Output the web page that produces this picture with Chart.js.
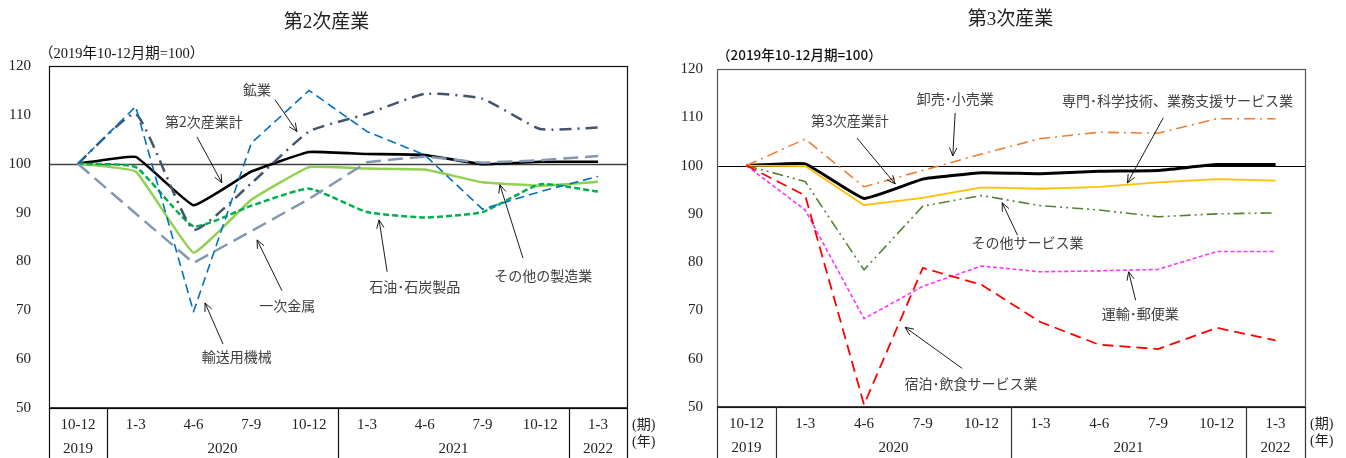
<!DOCTYPE html>
<html lang="ja">
<head>
<meta charset="utf-8">
<title>第2次産業・第3次産業</title>
<script src="https://cdn.jsdelivr.net/npm/chart.js@4/dist/chart.umd.min.js"></script>
<style>
  html, body { margin: 0; padding: 0; background: #fff; }
  #wrap { position: relative; width: 1346px; height: 458px; overflow: hidden; }
  .panel { position: absolute; top: 0; width: 673px; height: 458px; }
  #panelL { left: 0; }
  #panelR { left: 673px; }
  .title { position: absolute; width: 100%; text-align: center; font: 19px "Liberation Serif", "Noto Sans CJK JP", serif; color: #222; }
  .base { position: absolute; font-size: 14px; color: #111; white-space: nowrap; }
  #baseL { left: 39px; top: 41px; font-family: "Liberation Serif", "Noto Sans CJK JP", serif; font-size: 14.5px; }
  #baseR { left: 44px; top: 44px; font-family: "Noto Sans CJK JP", sans-serif; font-weight: 500; font-size: 13.5px; }
  canvas { position: absolute; left: 0; top: 0; }
</style>
</head>
<body>
<div id="wrap">
  <div class="panel" id="panelL">
    <canvas id="chartL" width="673" height="458"></canvas>
    <div class="title" style="top:6px;left:-10px">第2次産業</div>
    <div class="base" id="baseL">（2019年10-12月期=100）</div>
  </div>
  <div class="panel" id="panelR">
    <canvas id="chartR" width="673" height="458"></canvas>
    <div class="title" style="top:3px;left:1px">第3次産業</div>
    <div class="base" id="baseR">（2019年10-12月期=100）</div>
  </div>
</div>
<script>
// Quarter axis: period labels and the year each quarter belongs to
const quarters = ['10-12', '1-3', '4-6', '7-9', '10-12', '1-3', '4-6', '7-9', '10-12', '1-3'];
const quarterYears = ['2019', '2020', '2020', '2020', '2020', '2021', '2021', '2021', '2021', '2022'];
const yTicks = [50, 60, 70, 80, 90, 100, 110, 120];

// 第2次産業 (2019年10-12月期=100)
const secondaryTotal = [100, 101.4, 91.5, 98.4, 102.4, 102.0, 101.8, 99.9, 100.4, 100.4];
const mining = [100, 110.2, 86.5, 96.0, 106.6, 110.2, 114.3, 113.3, 107.1, 107.4];
const transportMachinery = [100, 111.7, 69.7, 104.2, 115.0, 106.6, 101.8, 90.7, 94.3, 97.4];
const primaryMetals = [100, 89.8, 79.7, 86.2, 92.8, 100.3, 101.5, 100.2, 100.7, 101.6];
const otherManufacturing = [100, 98.4, 81.8, 92.6, 99.3, 99.0, 98.8, 96.2, 95.5, 96.3];
const petroleumCoal = [100, 99.3, 87.2, 91.4, 94.9, 90.1, 89.0, 90.1, 95.8, 94.3];

// 第3次産業 (2019年10-12月期=100)
const tertiaryTotal = [100, 100.35, 93.2, 97.2, 98.5, 98.3, 98.8, 99.0, 100.2, 100.2];
const wholesaleRetail = [100, 105.5, 95.6, 99.0, 102.4, 105.6, 106.9, 106.7, 109.7, 109.7];
const professionalServices = [100, 99.9, 91.8, 93.3, 95.5, 95.2, 95.6, 96.5, 97.2, 96.9];
const otherServices = [100, 96.7, 78.4, 91.6, 93.8, 91.7, 90.8, 89.4, 90.0, 90.2];
const transportPostal = [100, 90.8, 68.3, 75.0, 79.2, 78.0, 78.2, 78.5, 82.2, 82.2];
const accommodationFood = [100, 93.8, 50.5, 78.8, 75.3, 67.6, 62.9, 62.0, 66.4, 63.8];

// Callouts: text position and arrow (from -> to), in category index / index value
const secondaryNotes = [
  { text: '鉱業', at: [3.10, 115.2], from: [3.41, 113.1], to: [3.79, 106.6] },
  { text: '第2次産業計', at: [2.18, 108.6], from: [2.06, 105.5], to: [2.49, 96.1] },
  { text: '一次金属', at: [3.62, 70.9], from: [3.53, 74.0], to: [3.10, 84.4] },
  { text: '輸送用機械', at: [2.75, 60.5], from: [2.51, 63.1], to: [2.20, 71.5] },
  { text: '石油･石炭製品', at: [5.83, 74.8], from: [5.35, 77.9], to: [5.21, 88.5] },
  { text: 'その他の製造業', at: [8.05, 77.0], from: [7.70, 80.7], to: [7.30, 95.7] }
];
const tertiaryNotes = [
  { text: '卸売･小売業', at: [3.55, 113.8], from: [3.55, 110.9], to: [3.51, 102.0] },
  { text: '第3次産業計', at: [1.76, 109.3], from: [1.88, 105.7], to: [2.53, 96.2] },
  { text: '専門･科学技術、業務支援サービス業', at: [7.33, 113.4], from: [7.09, 109.9], to: [6.48, 96.4] },
  { text: 'その他サービス業', at: [4.78, 84.0], from: [4.61, 85.6], to: [4.35, 92.3] },
  { text: '運輸･郵便業', at: [6.70, 69.4], from: [6.62, 72.1], to: [6.50, 78.0] },
  { text: '宿泊･飲食サービス業', at: [3.82, 54.9], from: [3.67, 58.0], to: [2.70, 66.5] }
];

const SERIF = '"Liberation Serif", "Noto Sans CJK JP", serif';

function line(label, data, color, width, dash, tension) {
  return {
    label, data,
    borderColor: color,
    borderWidth: width,
    borderDash: dash || [],
    borderCapStyle: 'butt',
    borderJoinStyle: 'round',
    pointRadius: 0,
    fill: false,
    tension: tension || 0
  };
}

// Frame, base line at 100, quarter/year table under the plot, and callouts
const framePlugin = {
  id: 'frame',
  beforeDatasetsDraw(chart, args, o) {
    const { ctx, chartArea: a, scales: { y } } = chart;
    const yb = Math.round(y.getPixelForValue(100)) + 0.5;
    ctx.save();
    ctx.strokeStyle = o.baseColor;
    ctx.lineWidth = o.baseWidth;
    ctx.beginPath();
    ctx.moveTo(a.left, yb);
    ctx.lineTo(a.right, yb);
    ctx.stroke();
    ctx.restore();
  },
  afterDatasetsDraw(chart, args, o) {
    const { ctx, chartArea: a, scales: { x, y } } = chart;
    const H = chart.height;
    const step = x.getPixelForValue(1) - x.getPixelForValue(0);
    ctx.save();
    // plot frame
    ctx.strokeStyle = o.frameColor;
    ctx.lineWidth = 1.2;
    ctx.strokeRect(Math.round(a.left) + 0.5, Math.round(a.top) + 0.5,
      Math.round(a.right - a.left), Math.round(a.bottom - a.top));
    ctx.strokeStyle = '#000';
    ctx.lineWidth = 1.5;
    ctx.beginPath();
    ctx.moveTo(a.left, a.bottom);
    ctx.lineTo(a.right, a.bottom);
    ctx.stroke();

    // year group separators and labels
    ctx.lineWidth = 1.2;
    ctx.strokeStyle = o.tableColor;
    ctx.fillStyle = '#222';
    ctx.font = '15px ' + SERIF;
    ctx.textAlign = 'center';
    ctx.textBaseline = 'middle';
    const edges = [];
    let start = 0;
    for (let i = 1; i <= quarterYears.length; i++) {
      if (i === quarterYears.length || quarterYears[i] !== quarterYears[start]) {
        const l = x.getPixelForValue(start) - step / 2;
        const r = x.getPixelForValue(i - 1) + step / 2;
        edges.push(l, r);
        ctx.fillText(quarterYears[start], (l + r) / 2, a.bottom + o.yearRow);
        start = i;
      }
    }
    ctx.beginPath();
    for (const e of edges) {
      const ex = Math.round(e) + 0.5;
      ctx.moveTo(ex, a.bottom);
      ctx.lineTo(ex, H);
    }
    ctx.stroke();
    quarters.forEach((q, i) => {
      ctx.fillText(q, x.getPixelForValue(i), a.bottom + o.quarterRow);
    });
    ctx.textAlign = 'left';
    ctx.font = '14px ' + SERIF;
    ctx.fillText('(期)', a.right + 5, a.bottom + o.quarterRow);
    ctx.fillText('(年)', a.right + 5, a.bottom + o.quarterRow + 17);

    // callouts
    const px = (p) => [x.getPixelForValue(0) + p[0] * step, y.getPixelForValue(p[1])];
    ctx.font = '14px "Noto Sans CJK JP", sans-serif';
    ctx.fillStyle = '#404040';
    ctx.textAlign = 'center';
    ctx.strokeStyle = '#000';
    ctx.lineWidth = 0.9;
    for (const n of o.notes) {
      const [tx, ty] = px(n.at);
      ctx.fillText(n.text, tx, ty);
      const [fx, fy] = px(n.from);
      const [hx, hy] = px(n.to);
      ctx.beginPath();
      ctx.moveTo(fx, fy);
      ctx.lineTo(hx, hy);
      const ang = Math.atan2(hy - fy, hx - fx);
      const len = 9, spread = 0.42;
      ctx.moveTo(hx - len * Math.cos(ang - spread), hy - len * Math.sin(ang - spread));
      ctx.lineTo(hx, hy);
      ctx.lineTo(hx - len * Math.cos(ang + spread), hy - len * Math.sin(ang + spread));
      ctx.stroke();
    }
    ctx.restore();
  }
};

function makeChart(id, datasets, cfg) {
  return new Chart(document.getElementById(id), {
    type: 'line',
    data: { labels: quarters, datasets },
    plugins: [framePlugin],
    options: {
      responsive: false,
      animation: false,
      devicePixelRatio: 1,
      layout: { padding: { left: 0, right: cfg.padRight, top: cfg.padTop, bottom: cfg.padBottom } },
      plugins: {
        legend: { display: false },
        tooltip: { enabled: false },
        frame: {
          notes: cfg.notes,
          baseColor: cfg.baseColor,
          baseWidth: cfg.baseWidth,
          frameColor: cfg.frameColor,
          tableColor: cfg.tableColor,
          quarterRow: cfg.quarterRow,
          yearRow: cfg.yearRow
        }
      },
      scales: {
        x: { type: 'category', offset: true, display: false },
        y: {
          min: 50, max: 120,
          afterFit: (s) => { s.width = cfg.axisWidth; },
          afterBuildTicks: (s) => { s.ticks = yTicks.map(v => ({ value: v })); },
          grid: { display: false, drawTicks: false },
          border: { display: false },
          ticks: {
            padding: cfg.tickPad,
            color: '#222',
            font: { family: SERIF, size: 15 }
          }
        }
      }
    }
  });
}

makeChart('chartL', [
  line('輸送用機械', transportMachinery, '#0070C0', 1.6, [9, 5]),
  line('一次金属', primaryMetals, '#8497B0', 2.5, [15, 7]),
  line('鉱業', mining, '#44546A', 2.5, [12, 6, 2, 6], 0.15),
  line('石油･石炭製品', petroleumCoal, '#00B050', 2.5, [6, 3], 0.15),
  line('その他の製造業', otherManufacturing, '#92D050', 2.5, [], 0.1),
  line('第2次産業計', secondaryTotal, '#000000', 2.6, [], 0.1)
], {
  notes: secondaryNotes, axisWidth: 49, tickPad: 18, padRight: 46, padTop: 66, padBottom: 50,
  baseColor: '#404040', baseWidth: 1.6, frameColor: '#111', tableColor: '#111',
  quarterRow: 17, yearRow: 41
});

makeChart('chartR', [
  line('宿泊･飲食サービス業', accommodationFood, '#FF0000', 1.8, [11, 6]),
  line('運輸･郵便業', transportPostal, '#FF33FF', 1.6, [4, 2.5]),
  line('その他サービス業', otherServices, '#548235', 1.6, [11, 4, 2, 4, 2, 4]),
  line('卸売･小売業', wholesaleRetail, '#ED7D31', 1.6, [11, 5, 2, 5]),
  line('専門･科学技術、業務支援サービス業', professionalServices, '#FFC000', 1.8, []),
  line('第3次産業計', tertiaryTotal, '#000000', 3, [], 0.1)
], {
  notes: tertiaryNotes, axisWidth: 44, tickPad: 14, padRight: 41, padTop: 69, padBottom: 51,
  baseColor: '#000', baseWidth: 1, frameColor: '#555', tableColor: '#333',
  quarterRow: 17, yearRow: 41
});
</script>
</body>
</html>
